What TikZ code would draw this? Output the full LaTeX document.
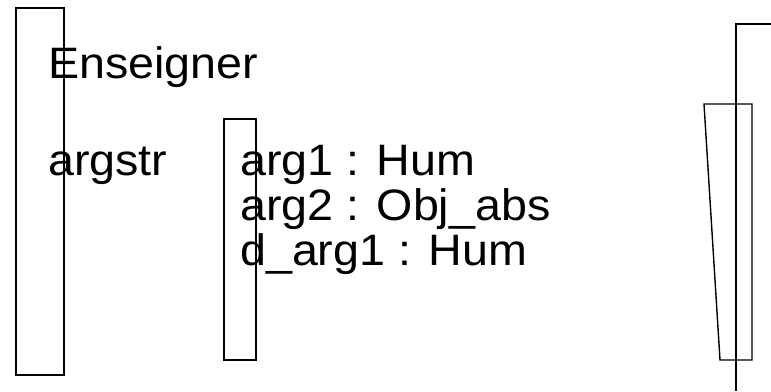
\documentclass[tikz,border=0pt]{standalone}
\usepackage{fontspec}
\setmainfont{Liberation Sans}[FakeStretch=1.06]
\begin{document}
\begin{tikzpicture}[x=1pt,y=-1pt,
  frame/.style={draw=black,line width=1.4pt},
  lbl/.style={anchor=base west,inner sep=0pt,font=\fontsize{44}{45}\selectfont}]
\useasboundingbox (0,0) rectangle (771,391);
% bars and outline shapes
\draw[frame] (16,8) rectangle (64,375);
\draw[frame] (224,119) rectangle (256,360);
\draw[frame] (771,24) -- (736,24) -- (736,391);
\draw[frame] (704,104) -- (752,104) -- (752,360) -- (720,360) -- cycle;
% labels
\node[lbl] (verb) at (48,78) {Enseigner};
\node[lbl] (argstr) at (48,175) {argstr};
\node[lbl] (a1) at (240,175) {arg1 : Hum};
\node[lbl] (a2) at (240,220) {arg2 : Obj\_abs};
\node[lbl] (d1) at (240,265) {d\_arg1 : Hum};
\end{tikzpicture}
\end{document}
